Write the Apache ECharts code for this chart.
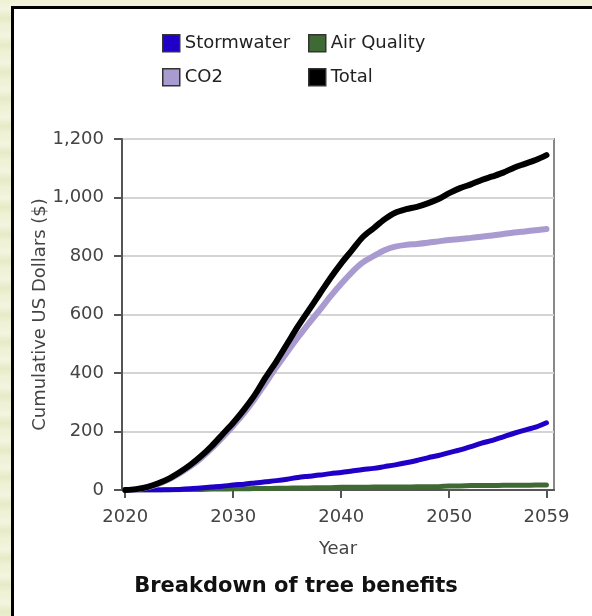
<!DOCTYPE html>
<html>
<head>
<meta charset="utf-8">
<title>Breakdown of tree benefits</title>
<script src="https://cdn.jsdelivr.net/npm/echarts@6/dist/echarts.min.js"></script>
<style>
  html, body { margin: 0; padding: 0; width: 592px; height: 616px; overflow: hidden; }
  body {
    background: repeating-linear-gradient(180deg, #eef1d4 0px, #f3f5e0 9px, #e6ebc6 18px, #f1f3da 27px);
  }
  #panel {
    position: absolute; left: 11px; top: 6px; width: 640px; height: 660px;
    background: #ffffff; border: 3px solid #000000; box-sizing: border-box;
  }
  #chart { position: absolute; left: 0; top: 0; width: 592px; height: 616px; }
</style>
</head>
<body>
<div id="panel"></div>
<div id="chart"></div>
<script>
// Years 2020 .. 2059
const years = [
  2020, 2021, 2022, 2023, 2024, 2025, 2026, 2027, 2028, 2029,
  2030, 2031, 2032, 2033, 2034, 2035, 2036, 2037, 2038, 2039,
  2040, 2041, 2042, 2043, 2044, 2045, 2046, 2047, 2048, 2049,
  2050, 2051, 2052, 2053, 2054, 2055, 2056, 2057, 2058, 2059
];

// Cumulative benefits in US dollars
const stormwater = [
  0, 0, 0, 0, 1, 2, 4, 7, 10, 13,
  17, 20, 24, 28, 32, 37, 43, 47, 51, 56,
  60, 65, 70, 74, 80, 86, 93, 101, 110, 118,
  128, 137, 148, 160, 170, 182, 194, 205, 215, 230
];
const airQuality = [
  0, 0, 0, 0, 0, 1, 2, 2, 3, 3,
  4, 4, 5, 5, 6, 6, 7, 7, 8, 8,
  9, 9, 9, 10, 10, 10, 10, 11, 11, 11,
  14, 14, 15, 15, 15, 16, 16, 16, 17, 17
];
const co2 = [
  0, 2, 9, 20, 36, 56, 80, 108, 142, 180,
  220, 263, 312, 366, 420, 472, 522, 570, 615, 662,
  705, 745, 778, 800, 820, 832, 838, 841, 845, 850,
  855, 858, 862, 866, 870, 875, 880, 884, 888, 892
];
const total = [
  0, 3, 10, 22, 38, 60, 85, 115, 150, 190,
  230, 275, 325, 385, 440, 500, 560, 615, 670, 725,
  775, 820, 865, 895, 925, 948, 960, 968, 980, 995,
  1015, 1032, 1045, 1060, 1072, 1085, 1102, 1115, 1128, 1145
];

const yearTicks = [2020, 2030, 2040, 2050, 2059];

const FONT = 'DejaVu Sans';
const pair = (arr) => years.map((y, i) => [y, arr[i]]);

const chart = echarts.init(document.getElementById('chart'), null, { renderer: 'canvas' });

function legendItem(name, left, top) {
  return {
    data: [name],
    left: left, top: top,
    padding: 0,
    icon: 'rect',
    itemWidth: 17, itemHeight: 17,
    itemGap: 6,
    itemStyle: { borderColor: '#333333', borderWidth: 1.5 },
    textStyle: { fontFamily: FONT, fontSize: 18, color: '#222222', padding: [0, 0, 0, 0] },
    selectedMode: false
  };
}

function lineSeries(name, arr, color, width, z) {
  return {
    name: name,
    type: 'line',
    data: pair(arr),
    smooth: 0.3,
    showSymbol: false,
    symbol: 'none',
    z: z,
    color: color,
    lineStyle: { color: color, width: width, cap: 'round', join: 'round' },
    itemStyle: { color: color },
    animation: false
  };
}

chart.setOption({
  animation: false,
  backgroundColor: 'transparent',
  title: {
    text: 'Breakdown of tree benefits',
    left: 'center',
    top: 571,
    textStyle: { fontFamily: FONT, fontWeight: 'bold', fontSize: 21, color: '#111111' }
  },
  legend: [
    legendItem('Stormwater', 162, 34),
    legendItem('Air Quality', 308, 34),
    legendItem('CO2', 162, 68),
    legendItem('Total', 308, 68)
  ],
  grid: {
    left: 122, right: 38, top: 139, bottom: 126,
    show: true, borderColor: '#888888', borderWidth: 2, backgroundColor: '#ffffff'
  },
  xAxis: {
    type: 'value',
    min: 2019.7, max: 2059.7,
    name: 'Year',
    nameLocation: 'middle',
    nameGap: 50,
    nameMoveOverlap: false,
    nameTextStyle: { fontFamily: FONT, fontSize: 18, color: '#444444' },
    axisLine: { show: true, lineStyle: { color: '#555555', width: 2 } },
    axisTick: { show: true, length: 8, customValues: yearTicks, lineStyle: { color: '#555555', width: 2 } },
    axisLabel: {
      customValues: yearTicks,
      fontFamily: FONT, fontSize: 18, color: '#444444', margin: 18,
      formatter: (v) => String(v)
    },
    splitLine: { show: false }
  },
  yAxis: {
    type: 'value',
    min: 0, max: 1200, interval: 200,
    name: 'Cumulative US Dollars ($)',
    nameLocation: 'middle',
    nameGap: 73,
    nameMoveOverlap: false,
    nameTextStyle: { fontFamily: FONT, fontSize: 18, color: '#444444' },
    axisLine: { show: true, lineStyle: { color: '#555555', width: 2 } },
    axisTick: { show: true, length: 8, lineStyle: { color: '#555555', width: 2 } },
    axisLabel: {
      fontFamily: FONT, fontSize: 18, color: '#444444', margin: 18,
      formatter: (v) => v.toLocaleString('en-US')
    },
    splitLine: { show: true, lineStyle: { color: '#d4d4d4', width: 2 } }
  },
  series: [
    lineSeries('Air Quality', airQuality, '#3f6a33', 5, 2),
    lineSeries('Stormwater', stormwater, '#2000c8', 5, 3),
    lineSeries('CO2', co2, '#a99bd0', 6, 4),
    lineSeries('Total', total, '#000000', 6, 5)
  ]
});
</script>
</body>
</html>
